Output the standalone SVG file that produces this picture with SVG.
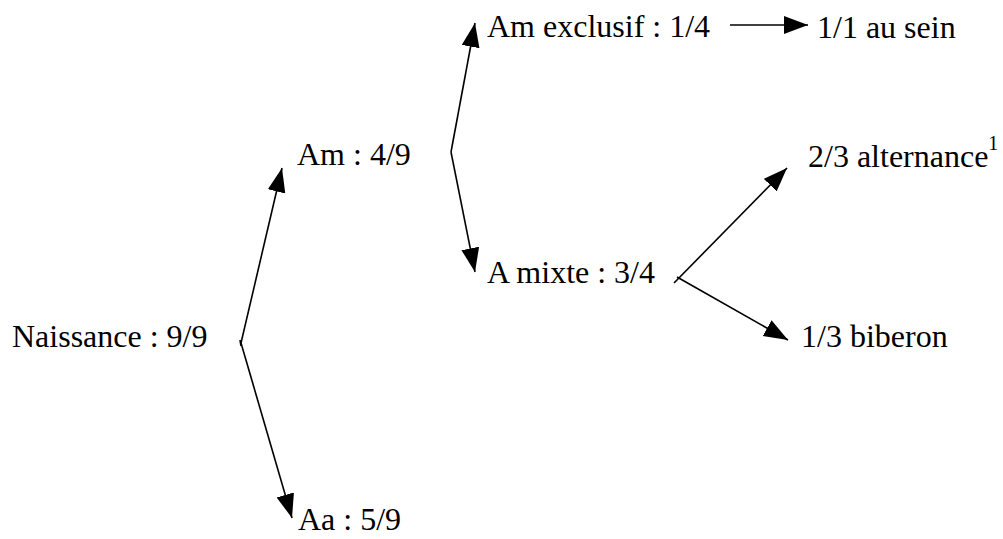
<svg xmlns="http://www.w3.org/2000/svg" width="1003" height="539" viewBox="0 0 1003 539">
<style>
.t{font-family:'Liberation Serif','DejaVu Serif',serif;font-size:32px;fill:#000}
.sup{font-size:20px}
.c{stroke:#000;stroke-width:1.6;fill:none}
</style>
<defs>
<marker id="ah" markerUnits="userSpaceOnUse" markerWidth="26" markerHeight="20" refX="24" refY="9" orient="auto">
<path d="M0,0 L24,9 L0,18 z" fill="#000"/>
</marker>
</defs>
<rect width="1003" height="539" fill="#fff"/>
<g id="connectors">
<path class="c" d="M241,343 L282,168" marker-end="url(#ah)"/>
<path class="c" d="M241,343 L292,518" marker-end="url(#ah)"/>
<path class="c" d="M240,340 L241,346"/>
<path class="c" d="M451,152 L475,23" marker-end="url(#ah)"/>
<path class="c" d="M451,152 L475,272" marker-end="url(#ah)"/>
<path class="c" d="M674,283 L787,168" marker-end="url(#ah)"/>
<path class="c" d="M677,277 L788,340" marker-end="url(#ah)"/>
<path class="c" d="M730,25 L808,25" marker-end="url(#ah)"/>
</g>
<g id="naissance"><text class="t" x="12" y="347">Naissance : 9/9</text></g>
<g id="am"><text class="t" x="297" y="165">Am : 4/9</text></g>
<g id="aa"><text class="t" x="298" y="530">Aa : 5/9</text></g>
<g id="am-exclusif"><text class="t" x="487" y="37">Am exclusif : 1/4</text></g>
<g id="au-sein"><text class="t" x="817" y="38">1/1 au sein</text></g>
<g id="a-mixte"><text class="t" x="487" y="283">A mixte : 3/4</text></g>
<g id="alternance"><text class="t" x="808" y="167">2/3 alternance<tspan class="sup" dy="-17">1</tspan></text></g>
<g id="biberon"><text class="t" x="801" y="347">1/3 biberon</text></g>
</svg>
